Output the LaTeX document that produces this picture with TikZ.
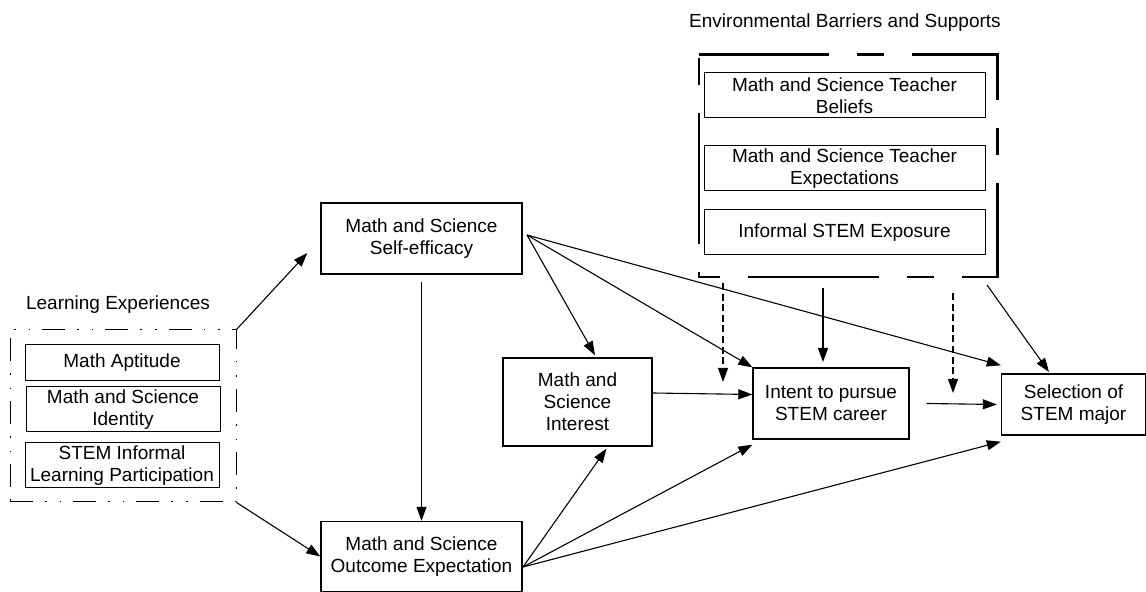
\documentclass[tikz,border=0pt]{standalone}
\usepackage{fontspec}
\setmainfont{Liberation Sans}
\usetikzlibrary{arrows.meta, positioning, calc}

\begin{document}
\begin{tikzpicture}[
    x=0.5pt, y=-0.5pt,
    >={Triangle[length=7pt, width=5pt]},
    txt/.style={font=\fontsize{9.5}{11}\selectfont},
    box/.style={rectangle, draw, line width=0.7pt, align=center, inner sep=1pt, txt},
    subbox/.style={rectangle, draw, line width=0.5pt, align=center, inner sep=1pt, txt},
    arr/.style={->, line width=0.55pt},
    darr/.style={->, line width=0.55pt, dash pattern=on 3.5pt off 1.8pt},
    dashdotframe/.style={rectangle, draw, line width=0.5pt, dash pattern=on 11.5pt off 6pt on 0.8pt off 6.5pt on 0.8pt off 6pt},
    envframe/.style={line width=1.1pt, dash pattern=on 65.25pt off 14pt on 13.5pt off 14pt}
  ]
  \useasboundingbox (0,0) rectangle (1146,592);

  % Learning experiences
  \node[txt] (lelabel) at (118,305) {Learning Experiences};
  \node[dashdotframe, minimum width=113pt, minimum height=86pt] (lebox) at (123,416) {};
  \node[subbox, minimum width=97pt, minimum height=18pt] (apt) at (122,363) {Math Aptitude};
  \node[subbox, minimum width=97pt, minimum height=22.5pt] (ident) at (123,409.5) {Math and Science\\Identity};
  \node[subbox, minimum width=97pt, minimum height=22.5pt] (infl) at (122,465.5) {STEM Informal\\Learning Participation};

  % Main constructs
  \node[box, minimum width=100.5pt, minimum height=35.5pt] (se) at (421.5,238.5) {Math and Science\\Self-efficacy};
  \node[box, minimum width=100.5pt, minimum height=35pt] (oe) at (421.5,556.5) {Math and Science\\Outcome Expectation};
  \node[box, minimum width=74.5pt, minimum height=44pt] (msi) at (577.5,402) {Math and\\Science\\Interest};
  \node[box, minimum width=78pt, minimum height=35.5pt] (intent) at (831,403.5) {Intent to pursue\\STEM career};
  \node[box, minimum width=72pt, minimum height=30.5pt] (major) at (1073.5,404.5) {Selection of\\STEM major};

  % Environmental barriers and supports
  \node[txt] (envlabel) at (845,23) {Environmental Barriers and Supports};
  \node[minimum width=149pt, minimum height=111pt] (env) at (848,166) {};
  \draw[envframe] (env.north west) -| (env.south east) -| (env.north west);
  \node[subbox, minimum width=140.5pt, minimum height=22.5pt] (tbel) at (844.5,95.5) {Math and Science Teacher\\Beliefs};
  \node[subbox, minimum width=140.5pt, minimum height=22.5pt] (texp) at (844.5,168.5) {Math and Science Teacher\\Expectations};
  \node[subbox, minimum width=140.5pt, minimum height=22.5pt] (infexp) at (844.5,232.5) {Informal STEM Exposure};

  % Free ends
  \coordinate (sefan) at (527,235);
  \coordinate (oefan) at (523,567);
  \coordinate (d1top) at (723,283);
  \coordinate (d1end) at (723,382);
  \coordinate (s1top) at (823,288);
  \coordinate (s1end) at (823,362);
  \coordinate (d2top) at (953,293);
  \coordinate (d2end) at (953,393);
  \coordinate (s2top) at (987,285);
  \coordinate (s2end) at (1049,372);

  % Arrows
  \draw[arr] (lebox.north east) -- ([shift={(-13,14.5)}]se.west);
  \draw[arr] (lebox.south east) -- (oe.west);
  \draw[arr] ([yshift=-3.5pt]se.south) -- (oe.north);
  \draw[arr] (sefan) -- ([shift={(17.5,-2)}]msi.north);
  \draw[arr] (sefan) -- (intent.north west);
  \draw[arr] (sefan) -- ([yshift=4pt]major.north west);
  \draw[arr] ([yshift=4.5pt]msi.east) -- ([yshift=4.5pt]intent.west);
  \draw[arr] (oefan) -- ([shift={(29,2)}]msi.south);
  \draw[arr] (oefan) -- ([yshift=-2.5pt]intent.south west);
  \draw[arr] (oefan) -- ([yshift=-3pt]major.south west);
  \draw[arr] ([xshift=8.5pt]intent.east) -- ([xshift=-2pt]major.west);
  \draw[darr] (d1top) -- (d1end);
  \draw[arr] (s1top) -- (s1end);
  \draw[darr] (d2top) -- (d2end);
  \draw[arr] (s2top) -- (s2end);

\end{tikzpicture}
\end{document}
